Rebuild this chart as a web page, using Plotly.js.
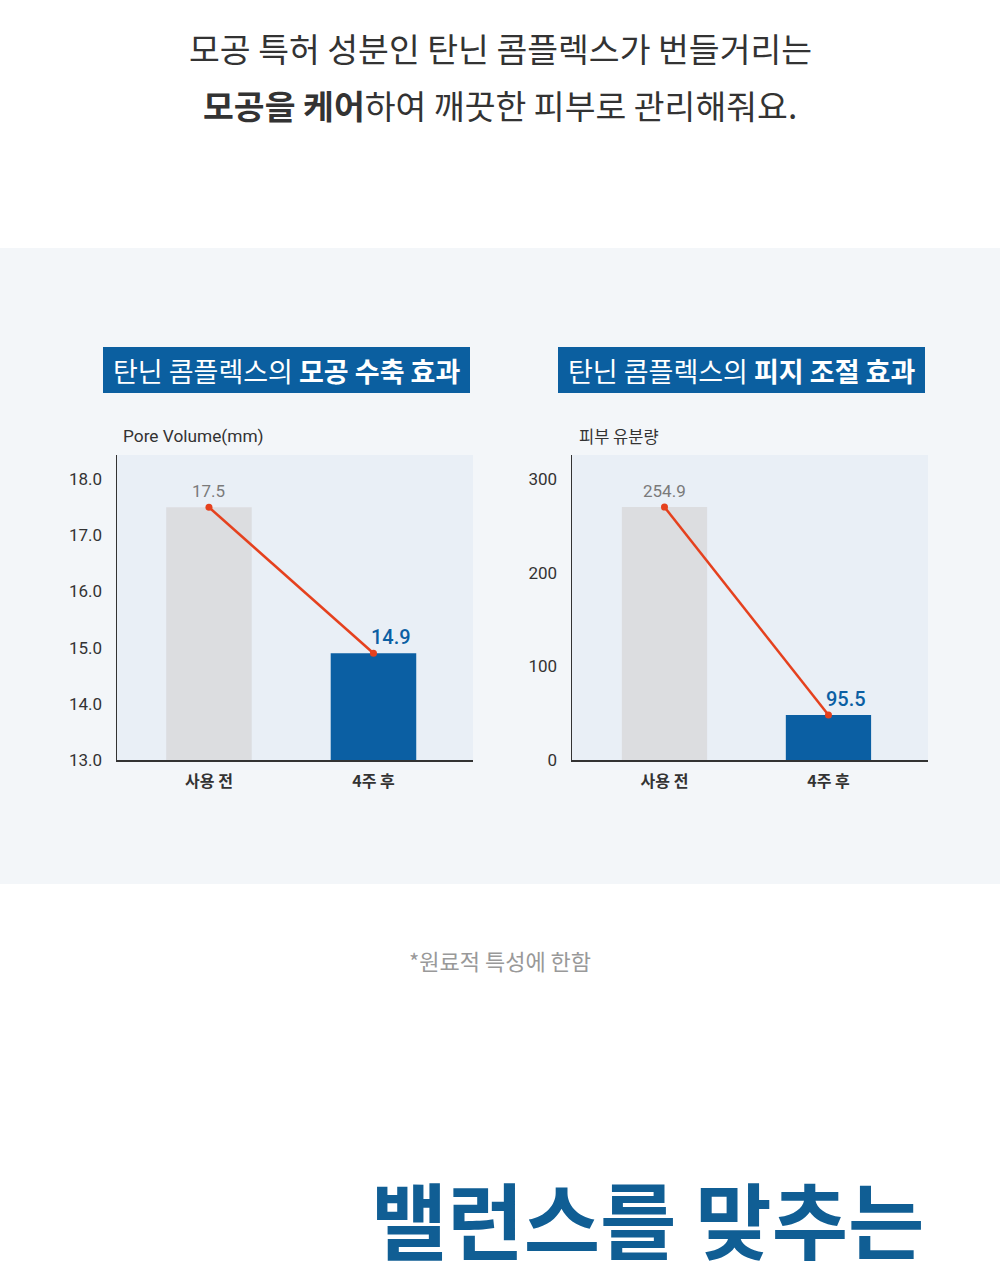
<!DOCTYPE html>
<html>
<head>
<meta charset="utf-8">
<script src="https://cdn.plot.ly/plotly-3.0.1.min.js"></script>
<style>
html,body{margin:0;padding:0;background:#fff;}
#chart{width:1000px;height:1280px;}
</style>
</head>
<body>
<div id="chart"></div>
<script>
// ---- data ----
const categories = ['사용 전', '4주 후'];
const poreValues = [17.5, 14.9];
const poreLabels = ['17.5', '14.9'];
const sebumBarHeights = [270, 48];       // bar heights as drawn in the reference
const sebumLabels = ['254.9', '95.5'];   // printed values
const poreTickVals = [13, 14, 15, 16, 17, 18];
const poreTickText = ['13.0', '14.0', '15.0', '16.0', '17.0', '18.0'];
const sebumTickVals = [0, 100, 200, 300];
const sebumTickText = ['0', '100', '200', '300'];
const headerLeft = '탄닌 콤플렉스의 <b>모공 수축 효과</b>';
const headerRight = '탄닌 콤플렉스의 <b>피지 조절 효과</b>';
const yTitleLeft = 'Pore Volume(mm)';
const yTitleRight = '피부 유분량';
const titleLine1 = '모공 특허 성분인 탄닌 콤플렉스가 번들거리는';
const titleLine2 = '<b>모공을 케어</b>하여 깨끗한 피부로 관리해줘요.';
const footnote = '*원료적 특성에 한함';
const bottomText = '<b>밸런스를 맞추는</b>';

// ---- styles ----
const W = 1000, H = 1280;
const px = v => v / W;
const py = v => 1 - v / H;
const KR = '"Noto Sans CJK KR", "Noto Sans", sans-serif';
const NUM = 'Roboto, "Noto Sans", sans-serif';
const gray = '#dcdde0', blue = '#0b5fa3', red = '#e5411e';

const traces = [
  {type: 'bar', x: categories, y: poreValues, xaxis: 'x', yaxis: 'y',
   marker: {color: [gray, blue]}, width: 0.52, hoverinfo: 'skip'},
  {type: 'scatter', mode: 'lines+markers', x: categories, y: poreValues, xaxis: 'x', yaxis: 'y',
   line: {color: red, width: 2.5}, marker: {color: red, size: 7}, hoverinfo: 'skip'},
  {type: 'bar', x: categories, y: sebumBarHeights, xaxis: 'x2', yaxis: 'y2',
   marker: {color: [gray, blue]}, width: 0.52, hoverinfo: 'skip'},
  {type: 'scatter', mode: 'lines+markers', x: categories, y: sebumBarHeights, xaxis: 'x2', yaxis: 'y2',
   line: {color: red, width: 2.5}, marker: {color: red, size: 7}, hoverinfo: 'skip'}
];

const xCommon = {
  type: 'category', showgrid: false, zeroline: false, showline: true,
  linecolor: '#333', linewidth: 1.5, ticks: '', ticklabelstandoff: 6,
  tickfont: {family: KR, size: 16, color: '#333', weight: 700}, fixedrange: true
};
const yCommon = {
  showgrid: false, zeroline: false, showline: true, linecolor: '#333', linewidth: 1.5,
  ticks: '', ticklabelstandoff: 10, tickfont: {family: NUM, size: 17, color: '#333'}, fixedrange: true
};

const yDomain = [py(760), py(455)];

const annotations = [
  // titles
  {xref: 'paper', yref: 'paper', x: 0.5, y: py(48), text: titleLine1, showarrow: false,
   font: {family: KR, size: 33.5, color: '#333'}, xanchor: 'center', yanchor: 'middle'},
  {xref: 'paper', yref: 'paper', x: 0.5, y: py(104), text: titleLine2, showarrow: false,
   font: {family: KR, size: 33.5, color: '#333'}, xanchor: 'center', yanchor: 'middle'},
  // headers
  {xref: 'paper', yref: 'paper', x: px(286.5), y: py(370), text: headerLeft, showarrow: false,
   font: {family: KR, size: 27, color: '#fff'}, xanchor: 'center', yanchor: 'middle'},
  {xref: 'paper', yref: 'paper', x: px(741.5), y: py(370), text: headerRight, showarrow: false,
   font: {family: KR, size: 27, color: '#fff'}, xanchor: 'center', yanchor: 'middle'},
  // y titles
  {xref: 'paper', yref: 'paper', x: px(121), y: py(436), text: yTitleLeft, showarrow: false,
   font: {family: NUM, size: 17.3, color: '#333'}, xanchor: 'left', yanchor: 'middle'},
  {xref: 'paper', yref: 'paper', x: px(577), y: py(436), text: yTitleRight, showarrow: false,
   font: {family: KR, size: 16.5, color: '#333'}, xanchor: 'left', yanchor: 'middle'},
  // footnote
  {xref: 'paper', yref: 'paper', x: 0.5, y: py(960), text: footnote, showarrow: false,
   font: {family: KR, size: 22, color: '#999'}, xanchor: 'center', yanchor: 'middle'},
  // bottom big text
  {xref: 'paper', yref: 'paper', x: px(926), y: py(1217), text: bottomText, showarrow: false,
   font: {family: KR, size: 83, color: '#105e94'}, xanchor: 'right', yanchor: 'middle'}
];

// value labels
[[poreValues, poreLabels, 'x', 'y'], [sebumBarHeights, sebumLabels, 'x2', 'y2']].forEach(([vals, labs, xa, ya]) => {
  annotations.push({xref: xa, yref: ya, x: categories[0], y: vals[0], text: labs[0], showarrow: false,
    yanchor: 'bottom', yshift: 4, font: {family: NUM, size: 17, color: '#7a7a7a'}});
  annotations.push({xref: xa, yref: ya, x: categories[1], y: vals[1], text: labs[1], showarrow: false,
    yanchor: 'bottom', yshift: 2, xshift: 18, font: {family: NUM, size: 20, color: '#0b5fa3', weight: 500}});
});

const shapes = [
  {type: 'rect', xref: 'paper', yref: 'paper', x0: 0, x1: 1, y0: py(884), y1: py(248),
   fillcolor: '#f3f6f9', line: {width: 0}, layer: 'below'},
  {type: 'rect', xref: 'x domain', yref: 'y domain', x0: 0, x1: 1, y0: 0, y1: 1,
   fillcolor: '#e9eff6', line: {width: 0}, layer: 'below'},
  {type: 'rect', xref: 'x2 domain', yref: 'y2 domain', x0: 0, x1: 1, y0: 0, y1: 1,
   fillcolor: '#e9eff6', line: {width: 0}, layer: 'below'},
  {type: 'rect', xref: 'paper', yref: 'paper', x0: px(103), x1: px(470), y0: py(393), y1: py(347),
   fillcolor: '#0b5fa0', line: {width: 0}, layer: 'below'},
  {type: 'rect', xref: 'paper', yref: 'paper', x0: px(558), x1: px(925), y0: py(393), y1: py(347),
   fillcolor: '#0b5fa0', line: {width: 0}, layer: 'below'}
];

const layout = {
  width: W, height: H, margin: {l: 0, r: 0, t: 0, b: 0},
  paper_bgcolor: '#ffffff', plot_bgcolor: 'rgba(0,0,0,0)', showlegend: false,
  xaxis: Object.assign({}, xCommon, {domain: [px(117), px(473)], range: [-0.559, 1.605], anchor: 'y'}),
  yaxis: Object.assign({}, yCommon, {domain: yDomain, range: [13, 18.43], tickvals: poreTickVals, ticktext: poreTickText, anchor: 'x'}),
  xaxis2: Object.assign({}, xCommon, {domain: [px(572), px(928)], range: [-0.564, 1.607], anchor: 'y2'}),
  yaxis2: Object.assign({}, yCommon, {domain: yDomain, range: [0, 325.6], tickvals: sebumTickVals, ticktext: sebumTickText, anchor: 'x2'}),
  shapes: shapes,
  annotations: annotations
};

Plotly.newPlot('chart', traces, layout, {displayModeBar: false, staticPlot: true});
</script>
</body>
</html>
